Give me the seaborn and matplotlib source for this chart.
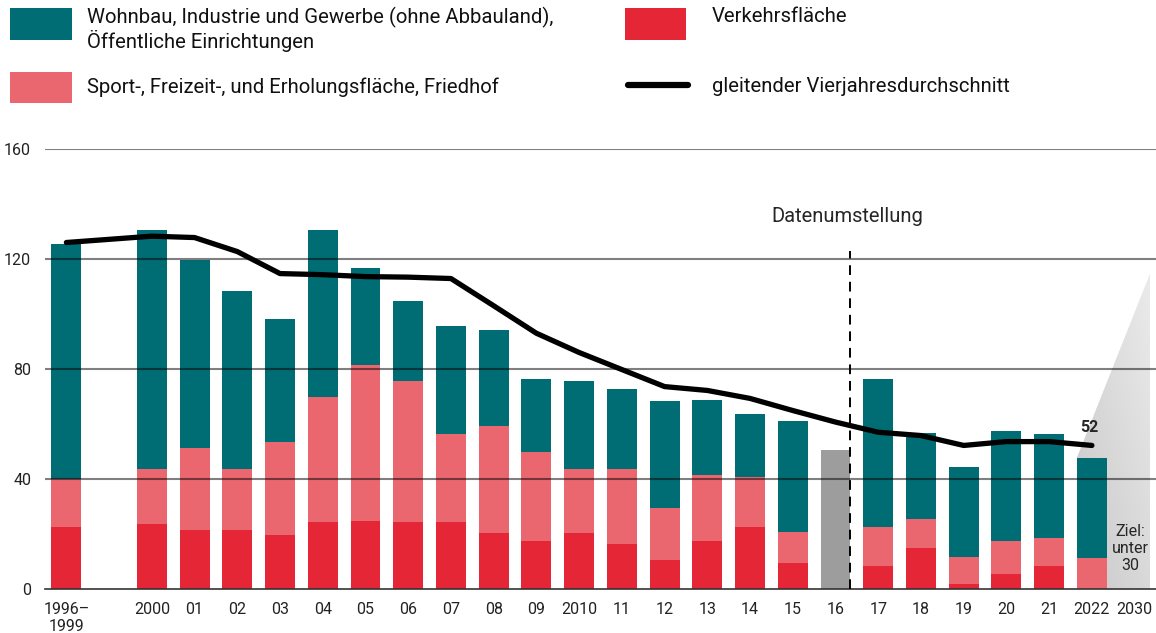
import numpy as np
import pandas as pd
import matplotlib
matplotlib.use('Agg')
import matplotlib.pyplot as plt
import seaborn as sns
from matplotlib.patches import Rectangle, Polygon
from matplotlib.lines import Line2D
from matplotlib.colors import LinearSegmentedColormap

# Flächenneuinanspruchnahme, ha pro Tag
cats = ["1996–\n1999", "", "2000", "01", "02", "03", "04", "05", "06", "07", "08", "09",
        "2010", "11", "12", "13", "14", "15", "16", "17", "18", "19", "20", "21", "2022", "2030"]
nan = np.nan
verkehr = [22.4, nan, 23.5, 21.6, 21.6, 19.8, 24.5, 24.9, 24.2, 24.2, 20.2, 17.6,
           20.2, 16.5, 10.4, 17.6, 22.7, 9.3, nan, 8.2, 15.0, 2.0, 5.3, 8.2, 0.0, nan]
sport = [17.6, nan, 20.0, 29.5, 21.9, 33.8, 45.5, 56.4, 51.3, 32.3, 39.2, 32.4,
         23.3, 27.3, 18.9, 24.0, 18.2, 11.6, nan, 14.5, 10.6, 9.8, 12.3, 10.2, 11.1, nan]
wohnbau = [85.6, nan, 87.2, 68.7, 65.0, 44.4, 60.7, 35.6, 29.4, 39.3, 34.6, 26.5,
           32.0, 28.8, 38.9, 27.3, 22.6, 40.1, nan, 53.5, 31.3, 32.4, 40.0, 38.1, 36.7, nan]
ohne_aufteilung = [nan] * 18 + [50.7] + [nan] * 7  # 2016, Datenumstellung

avg_cats = ["1996–\n1999", "2000", "01", "02", "03", "04", "05", "06", "07", "08", "09",
            "2010", "11", "12", "13", "14", "15", "16", "17", "18", "19", "20", "21", "2022"]
avg = [126.0, 128.3, 127.8, 122.7, 114.7, 114.3, 113.6, 113.4, 112.9, 103.0, 93.0,
       86.0, 79.8, 73.6, 72.2, 69.3, 64.9, 60.7, 57.0, 55.8, 52.2, 53.6, 53.6, 52.2]

TEAL = '#006d74'
PINK = '#eb6770'
RED = '#e52637'
GRAY = '#9d9d9d'

df = pd.DataFrame({'cat': cats, 'verkehr': verkehr, 'sport': sport, 'wohnbau': wohnbau,
                   'gray': ohne_aufteilung})
df['sport_top'] = df['verkehr'] + df['sport']
df['total'] = df['sport_top'] + df['wohnbau']

sns.set_style('white')
plt.rcParams['font.family'] = ['Roboto', 'DejaVu Sans']

W, H = 1156, 633
fig = plt.figure(figsize=(W / 100, H / 100), dpi=100)
ax = fig.add_axes([45 / W, 44 / H, 1111 / W, 440 / H])

# stacked bars: draw cumulative heights from back to front
for col, c in [('total', TEAL), ('sport_top', PINK), ('verkehr', RED), ('gray', GRAY)]:
    sns.barplot(data=df, x='cat', y=col, order=cats, color=c, width=0.7,
                saturation=1, errorbar=None, ax=ax, zorder=2,
                linewidth=0, edgecolor='none')

xmax = 25.36

# grey target wedge towards 2030
i22 = cats.index("2022")
x0 = i22 - 0.35
poly = Polygon([(x0, 47.8), (xmax, 114.7), (xmax, 0), (x0, 0)], closed=True,
               facecolor='none', edgecolor='none', zorder=1)
ax.add_patch(poly)
gx, gy = np.meshgrid(np.linspace(0, 1, 200), np.linspace(0, 1, 200))
grad = 0.5 * gx + 0.5 * gy
cmap = LinearSegmentedColormap.from_list('g', ['#c8c8c8', '#ebebeb'])
im = ax.imshow(grad, extent=[x0, xmax, 0, 114.7], origin='lower', aspect='auto',
               cmap=cmap, zorder=1)
im.set_clip_path(poly)

# gridlines on top of bars
for v in [40, 80, 120, 160]:
    ax.axhline(v, color='black', alpha=0.5, lw=1.5, zorder=3)

# moving average
xs = [cats.index(c) for c in avg_cats]
sns.lineplot(x=xs, y=avg, sort=False, color='black', lw=3.8, ax=ax, zorder=5)
ax.text(xs[-1] - 0.05, 58.7, "52", fontsize=11.5, fontweight='bold', ha='center', va='center')

# data change marker
i16 = cats.index("16")
ax.plot([i16 + 0.33, i16 + 0.33], [0, 123], color='black', lw=1.4, ls=(0, (5, 3.5)), zorder=4)
ax.text(i16 + 0.27, 135.5, "Datenumstellung", fontsize=14.5, ha='center', va='center')

ax.text(cats.index("2030") - 0.1, 14.7, "Ziel:\nunter\n30", fontsize=11.5, ha='center',
        va='center', linespacing=1.2, zorder=6)

ax.set_xlim(-0.5, xmax)
ax.set_ylim(0, 160)
ax.set_xlabel('')
ax.set_ylabel('')
ax.set_xticks(range(len(cats)))
ax.set_xticklabels(cats, fontsize=11.5, color='#222222')
ax.set_xticks(np.arange(-0.5, len(cats), 1), minor=True)
ax.tick_params(axis='x', which='major', length=0, pad=9)
ax.tick_params(axis='x', which='minor', length=6, width=1.2, color='#333333')
ax.set_yticks([0, 40, 80, 120, 160])
ax.set_yticklabels(['0', '40', '80', '120', '160'], fontsize=11.5, color='#222222')
ax.tick_params(axis='y', length=0, pad=10)
for s in ['left', 'right', 'top']:
    ax.spines[s].set_visible(False)
ax.spines['bottom'].set_color('#333333')
ax.spines['bottom'].set_linewidth(1.2)
ax.grid(False)


# legend in pixel coordinates (top-left origin)
def fx(x):
    return x / W


def fy(y):
    return 1 - y / H


def swatch(x1, y1, x2, y2, c):
    fig.add_artist(Rectangle((fx(x1), fy(y2)), (x2 - x1) / W, (y2 - y1) / H,
                             transform=fig.transFigure, facecolor=c, edgecolor='none'))


swatch(10, 8, 72, 40, TEAL)
swatch(10, 72, 72, 103, PINK)
swatch(625, 8, 686, 40, RED)
fig.add_artist(Line2D([fx(628), fx(688)], [fy(85), fy(85)], color='black', lw=4.5,
                      transform=fig.transFigure))

lt = dict(fontsize=14.6, va='center', ha='left', color='#111111')
fig.text(fx(87), fy(17), "Wohnbau, Industrie und Gewerbe (ohne Abbauland),", **lt)
fig.text(fx(87), fy(41), "Öffentliche Einrichtungen", **lt)
fig.text(fx(87), fy(87), "Sport-, Freizeit-, und Erholungsfläche, Friedhof", **lt)
fig.text(fx(712), fy(17), "Verkehrsfläche", **lt)
fig.text(fx(712), fy(87), "gleitender Vierjahresdurchschnitt", **lt)

fig.savefig('out.png', dpi=100)
